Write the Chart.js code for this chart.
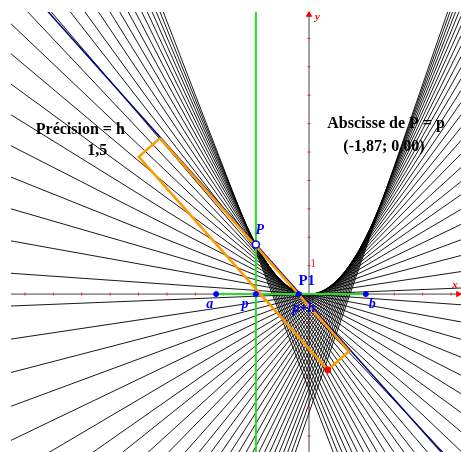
<!DOCTYPE html>
<html>
<head>
<meta charset="utf-8">
<script src="https://cdn.jsdelivr.net/npm/chart.js@4/dist/chart.umd.min.js"></script>
<style>
  html, body { margin: 0; padding: 0; background: #fff; overflow: hidden; }
  canvas { display: block; }
</style>
</head>
<body>
<canvas id="chart_envelope" width="461" height="452" style="width:461px;height:452px"></canvas>
<script>
// visible window of the graphics view
var xMin = -10.49, xMax = 5.35, yMin = -5.56, yMax = 9.93;

// slopes of the traced lines (tangents to y = x^2/2)
var lineSlopes = [
  -2.59, -2.48, -2.37, -2.26, -2.15, -2.04, -1.93, -1.82, -1.71, -1.60,
  -1.49, -1.38, -1.28, -1.17, -1.06, -0.95, -0.84, -0.73, -0.62, -0.51,
  -0.40, -0.29, -0.18, -0.07, 0.04, 0.15, 0.26, 0.37, 0.48, 0.59,
  0.70, 0.80, 0.91, 1.02, 1.13, 1.24, 1.35, 1.46, 1.57, 1.68,
  1.79, 1.90, 2.01, 2.12, 2.23, 2.34, 2.45, 2.56, 2.67, 2.78, 2.89
];

// axis graduations
var xTicks = [-10, -9, -8, -7, -6, -5, -4, -3, -2, -1, 1, 2, 3, 4, 5];
var yTicks = [-5, -4, -3, -2, -1, 1, 2, 3, 4, 5, 6, 7, 8, 9];

// sliders / points
var aValue = -3.27;
var bValue = 2.0;
var pValue = -1.87;
var hValue = 1.5;

// orange rectangle corners
var rectX = [-5.25, 1.41, 0.66, -5.99, -5.25];
var rectY = [5.49, -2.01, -2.67, 4.83, 5.49];

function lineData(m, c) {
  return [{x: xMin, y: m * xMin + c}, {x: xMax, y: m * xMax + c}];
}

var datasets = [];

lineSlopes.forEach(function (m) {
  datasets.push({
    data: lineData(m, -m * m / 2),
    showLine: true, pointRadius: 0,
    borderColor: 'rgba(0,0,0,0.9)', borderWidth: 1,
    order: 8
  });
});

// axes
datasets.push({
  data: [{x: xMin, y: 0}, {x: xMax, y: 0}],
  showLine: true, pointRadius: 0, borderColor: '#444', borderWidth: 1, order: 9
});
datasets.push({
  data: [{x: 0, y: yMin}, {x: 0, y: yMax}],
  showLine: true, pointRadius: 0, borderColor: '#444', borderWidth: 1, order: 9
});
datasets.push({
  data: xTicks.map(function (v) { return {x: v, y: 0}; }),
  showLine: false, pointStyle: 'line', rotation: 90, pointRadius: 1.5,
  borderColor: '#ff2020', borderWidth: 1, order: 7
});
datasets.push({
  data: yTicks.map(function (v) { return {x: 0, y: v}; }),
  showLine: false, pointStyle: 'line', pointRadius: 1.5,
  borderColor: '#ff2020', borderWidth: 1, order: 7
});
datasets.push({
  data: [{x: xMax - 0.1, y: 0}],
  showLine: false, pointStyle: 'triangle', rotation: 90, pointRadius: 3,
  backgroundColor: '#ff0000', borderColor: '#ff0000', borderWidth: 1, order: 7, clip: false
});
datasets.push({
  data: [{x: 0, y: yMax - 0.1}],
  showLine: false, pointStyle: 'triangle', pointRadius: 3,
  backgroundColor: '#ff0000', borderColor: '#ff0000', borderWidth: 1, order: 7, clip: false
});

// green: x = p and segment [a, b]
datasets.push({
  data: [{x: pValue, y: yMin}, {x: pValue, y: yMax}],
  showLine: true, pointRadius: 0, borderColor: '#22e022', borderWidth: 2, order: 4
});
datasets.push({
  data: [{x: aValue, y: 0}, {x: bValue, y: 0}],
  showLine: true, pointRadius: 0, borderColor: '#22e022', borderWidth: 2, order: 6
});

// secant through P and P+h
var secSlope = pValue + hValue / 2;
var secIntercept = -pValue * (pValue + hValue) / 2;
datasets.push({
  data: lineData(secSlope, secIntercept),
  showLine: true, pointRadius: 0, borderColor: '#000080', borderWidth: 1.5, order: 3
});

// orange rectangle
datasets.push({
  data: rectX.map(function (x, i) { return {x: x, y: rectY[i]}; }),
  showLine: true, pointRadius: 0, borderColor: '#ff9900', borderWidth: 2.5,
  borderJoinStyle: 'miter', order: 2
});
datasets.push({
  data: [{x: rectX[2], y: rectY[2]}],
  showLine: false, pointRadius: 3, backgroundColor: '#ff0000', borderColor: '#ff0000', order: 1
});

// points on the x axis
datasets.push({
  data: [aValue, pValue, pValue + hValue, bValue].map(function (v) { return {x: v, y: 0}; }),
  showLine: false, pointRadius: 2.5, backgroundColor: '#0000ff', borderColor: '#0000ff', order: 1
});
// P on the parabola
datasets.push({
  data: [{x: pValue, y: pValue * pValue / 2}],
  showLine: false, pointRadius: 3.5, backgroundColor: '#ffffff', borderColor: '#0000ff',
  borderWidth: 1.5, order: 0
});

var labels = [
  {t: 'Précision = h', x: -8.05, y: 5.77, font: 'bold 16px "Liberation Serif"', c: '#000'},
  {t: '1,5', x: -7.45, y: 5.03, font: 'bold 16px "Liberation Serif"', c: '#000'},
  {t: 'Abscisse de P = p', x: 2.71, y: 5.99, font: 'bold 16px "Liberation Serif"', c: '#000'},
  {t: '(-1,87; 0,00)', x: 2.64, y: 5.18, font: 'bold 16px "Liberation Serif"', c: '#000'},
  {t: 'a', x: -3.49, y: -0.35, font: 'italic bold 14px "Liberation Serif"', c: '#0000ff'},
  {t: 'p', x: -2.25, y: -0.35, font: 'italic bold 14px "Liberation Serif"', c: '#0000ff'},
  {t: 'p+h', x: -0.18, y: -0.49, font: 'italic bold 14px "Liberation Serif"', c: '#0000ff'},
  {t: 'b', x: 2.23, y: -0.35, font: 'italic bold 14px "Liberation Serif"', c: '#0000ff'},
  {t: 'P', x: -1.73, y: 2.25, font: 'italic bold 14px "Liberation Serif"', c: '#0000ff'},
  {t: 'P1', x: -0.08, y: 0.46, font: 'bold 15px "Liberation Serif"', c: '#0000ff'},
  {t: '1', x: 0.15, y: 1.08, font: '12px "Liberation Serif"', c: '#ff2020'},
  {t: 'x', x: 5.14, y: 0.3, font: 'bold italic 11px "Liberation Serif"', c: '#ff0000'},
  {t: 'y', x: 0.3, y: 9.75, font: 'bold italic 11px "Liberation Serif"', c: '#ff0000'}
];

var chart_envelope = new Chart(document.getElementById('chart_envelope'), {
  type: 'scatter',
  data: { datasets: datasets },
  options: {
    animation: false,
    responsive: false,
    devicePixelRatio: 1,
    layout: { autoPadding: false, padding: { left: 11, top: 12, right: 0, bottom: 0 } },
    plugins: {
      legend: { display: false },
      tooltip: { enabled: false }
    },
    scales: {
      x: { type: 'linear', min: xMin, max: xMax, display: false },
      y: { type: 'linear', min: yMin, max: yMax, display: false }
    }
  },
  plugins: [{
    id: 'textLabels',
    afterDraw: function (chart) {
      var ctx = chart.ctx;
      var sx = chart.scales.x, sy = chart.scales.y;
      ctx.save();
      ctx.textAlign = 'center';
      ctx.textBaseline = 'middle';
      labels.forEach(function (l) {
        ctx.font = l.font;
        ctx.fillStyle = l.c;
        ctx.fillText(l.t, sx.getPixelForValue(l.x), sy.getPixelForValue(l.y));
      });
      ctx.restore();
    }
  }, {
    id: 'whiteBg',
    beforeDraw: function (chart) {
      var ctx = chart.ctx;
      ctx.save();
      ctx.fillStyle = 'white';
      ctx.fillRect(0, 0, chart.width, chart.height);
      ctx.restore();
    }
  }]
});
</script>
</body>
</html>
